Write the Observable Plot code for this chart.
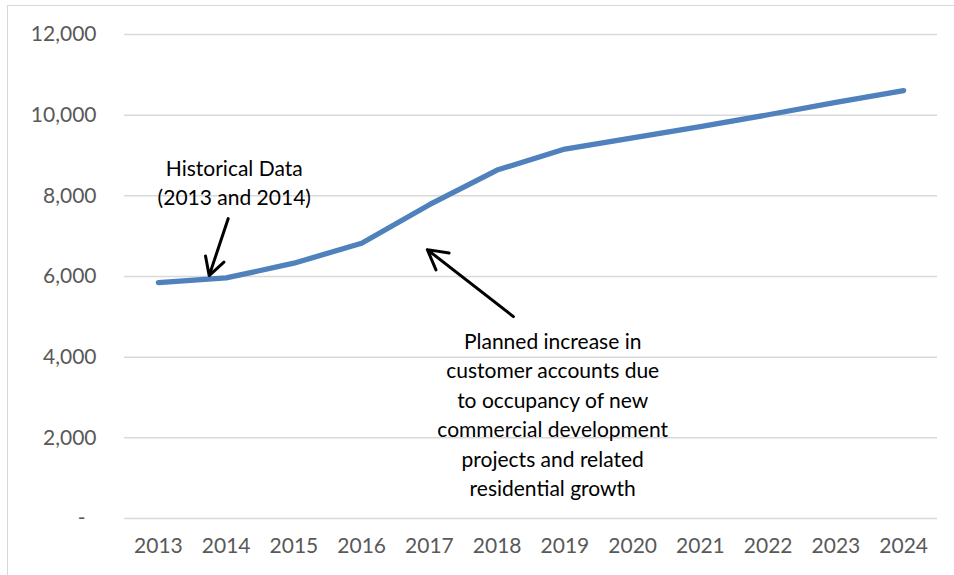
<!DOCTYPE html>
<html>
<head>
<meta charset="utf-8">
<script src="https://cdn.jsdelivr.net/npm/d3@7"></script>
<script src="https://cdn.jsdelivr.net/npm/@observablehq/plot@0.6"></script>
<style>
  body { margin: 0; background: #fff; }
  #wrap { position: relative; width: 954px; height: 575px; overflow: hidden; }
  #border { position: absolute; left: 7px; top: 5px; width: 970px; height: 600px; border: 1.5px solid #d9d9d9; pointer-events: none; }
</style>
</head>
<body>
<div id="wrap"><div id="border"></div></div>
<script>
const years = [2013, 2014, 2015, 2016, 2017, 2018, 2019, 2020, 2021, 2022, 2023, 2024];
const accounts = [5850, 5965, 6330, 6825, 7780, 8640, 9160, 9435, 9715, 10010, 10315, 10610];
const yTicks = [2000, 4000, 6000, 8000, 10000, 12000];
const annotationTexts = ["Historical Data\n(2013 and 2014)", "Planned increase in\ncustomer accounts due\nto occupancy of new\ncommercial development\nprojects and related\nresidential growth"];
const annotationX = [2014.12, 2018.82];
const annotationY = [8363, 2614];
const arrowX1 = [2014.03, 2018.24];
const arrowY1 = [7434, 5006];
const arrowX2 = [2013.75, 2016.97];
const arrowY2 = [6022, 6666];

const series = years.map((y, i) => ({year: y, value: accounts[i]}));
const notes = annotationTexts.map((t, i) => ({text: t, x: annotationX[i], y: annotationY[i]}));
const arrows = arrowX1.map((x, i) => ({x1: x, y1: arrowY1[i], x2: arrowX2[i], y2: arrowY2[i]}));

const chart = Plot.plot({
  width: 954,
  height: 575,
  marginLeft: 124,
  marginRight: 17,
  marginTop: 34,
  marginBottom: 57,
  style: {fontFamily: "Lato, 'Open Sans', sans-serif", fontSize: "21px", background: "transparent"},
  x: {domain: [2012.5, 2024.5]},
  y: {domain: [0, 12000]},
  marks: [
    Plot.ruleY([0, ...yTicks], {stroke: "#d9d9d9", strokeWidth: 1.5}),
    Plot.axisY(yTicks, {tickSize: 0, tickPadding: 28, tickFormat: d => d3.format(",")(d), fill: "#595959", fontSize: 21}),
    Plot.axisY([0], {tickSize: 0, tickPadding: 39, tickFormat: () => "-", fill: "#595959", fontSize: 21}),
    Plot.axisX(years, {tickSize: 0, tickPadding: 20, tickFormat: d => String(d), fill: "#595959", fontSize: 21}),
    Plot.line(series, {x: "year", y: "value", stroke: "#4f81bd", strokeWidth: 5.3, strokeLinecap: "round", strokeLinejoin: "round"}),
    Plot.arrow(arrows, {x1: "x1", y1: "y1", x2: "x2", y2: "y2", stroke: "#000", strokeWidth: 3, headLength: 11, headAngle: 58}),
    Plot.text(notes, {x: "x", y: "y", text: "text", fill: "#000", fontSize: 21, lineHeight: 1.4, textAnchor: "middle", lineAnchor: "middle"})
  ]
});
document.getElementById("wrap").prepend(chart);
</script>
</body>
</html>
